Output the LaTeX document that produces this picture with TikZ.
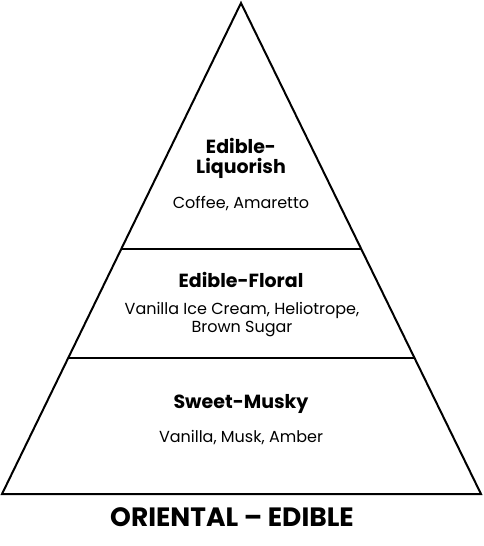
\documentclass[tikz,border=0pt]{standalone}
\usepackage{fontspec}
\setmainfont{Poppins}
\begin{document}
\begin{tikzpicture}[x=1pt,y=-1pt,
  edge/.style={line width=2pt, line join=miter},
  title/.style={font=\fontsize{19}{20}\selectfont\bfseries, align=center, inner sep=0pt},
  notes/.style={font=\fontsize{16}{18}\selectfont, align=center, inner sep=0pt},
  maintitle/.style={font=\fontsize{26.5}{28}\selectfont\bfseries, inner sep=0pt}]
\useasboundingbox (0,0) rectangle (483,546);
\coordinate (apex) at (241,3);
\coordinate (bl) at (2,494);
\coordinate (br) at (481,494);
\coordinate (l1) at (121.3,249);
\coordinate (r1) at (361,249);
\coordinate (l2) at (68,358);
\coordinate (r2) at (414.5,358);
\draw[edge] (bl) -- (apex) -- (br) -- cycle;
\draw[edge] (l1) -- (r1);
\draw[edge] (l2) -- (r2);
\node[title] (t1) at (241,158) {Edible-\\Liquorish};
\node[notes] (n1) at (241,204) {Coffee, Amaretto};
\node[title] (t2) at (241,280) {Edible-Floral};
\node[notes] (n2) at (242,320) {Vanilla Ice Cream, Heliotrope,\\Brown Sugar};
\node[title] (t3) at (241,404) {Sweet-Musky};
\node[notes] (n3) at (241,438) {Vanilla, Musk, Amber};
\node[maintitle] (mt) at (232,517) {ORIENTAL – EDIBLE};
\end{tikzpicture}
\end{document}
